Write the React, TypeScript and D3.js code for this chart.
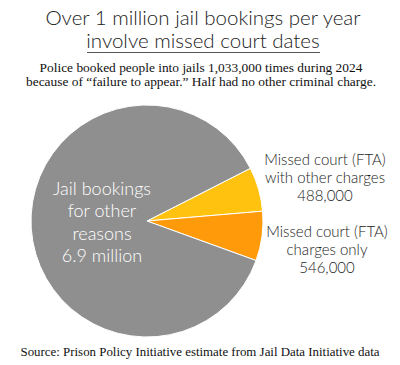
import * as d3 from "d3";

const categories = ["Missed court (FTA) with other charges", "Missed court (FTA) charges only", "Jail bookings for other reasons"];
const values = [488000, 546000, 6900000];
const colors = ["#ffc20e", "#ff9a0a", "#8f8f8f"];

const titleLines = ["Over 1 million jail bookings per year", "involve missed court dates"];
const subtitleLines = [
  "Police booked people into jails 1,033,000 times during 2024",
  "because of \u201cfailure to appear.\u201d Half had no other criminal charge.",
];
const innerLabel = ["Jail bookings", "for other", "reasons", "6.9 million"];
const ftaOtherLabel = ["Missed court (FTA)", "with other charges", "488,000"];
const ftaOnlyLabel = ["Missed court (FTA)", "charges only", "546,000"];
const source = "Source: Prison Policy Initiative estimate from Jail Data Initiative data";

export default function App() {
  const w = 400,
    h = 365;
  const cx = 147,
    cy = 221,
    r = 116;

  const pie = d3
    .pie<number>()
    .sort(null)
    .value((d) => d)
    .startAngle((63 * Math.PI) / 180)
    .endAngle((63 * Math.PI) / 180 + 2 * Math.PI);
  const arcs = pie(values);
  const arc = d3.arc<d3.PieArcDatum<number>>().innerRadius(0).outerRadius(r);

  const sans = "Lato, 'Open Sans', sans-serif";
  const serif = "'Liberation Serif', 'Times New Roman', serif";

  return (
    <svg width={w} height={h} style={{ position: "absolute", left: 0, top: 0, background: "#fff" }}>
      {/* title */}
      <g fontFamily={sans} fontSize={20.5} fontWeight={300} fill="#222" textAnchor="middle">
        {titleLines.map((t, i) => (
          <text key={i} x={203} y={25 + i * 22.5}>
            {t}
          </text>
        ))}
      </g>
      <line x1={87} x2={320} y1={52.5} y2={52.5} stroke="#555" strokeWidth={1} />

      {/* subtitle */}
      <g fontFamily={serif} fontSize={13.4} fill="#111" textAnchor="middle">
        {subtitleLines.map((t, i) => (
          <text key={i} x={201} y={72 + i * 14}>
            {t}
          </text>
        ))}
      </g>

      {/* pie */}
      <g transform={`translate(${cx},${cy})`}>
        {arcs.map((a, i) => (
          <path key={categories[i]} d={arc(a) ?? ""} fill={colors[i]} stroke="#fff" strokeWidth={1} />
        ))}
      </g>

      {/* labels */}
      <g fontFamily={sans} fontSize={18} fontWeight={300} fill="#fff" textAnchor="middle">
        {innerLabel.map((t, i) => (
          <text key={i} x={102} y={195 + i * 22.3}>
            {t}
          </text>
        ))}
      </g>
      <g fontFamily={sans} fontSize={15} fontWeight={300} fill="#222" textAnchor="middle">
        {ftaOtherLabel.map((t, i) => (
          <text key={i} x={325} y={165 + i * 18}>
            {t}
          </text>
        ))}
        {ftaOnlyLabel.map((t, i) => (
          <text key={i} x={327} y={237 + i * 18}>
            {t}
          </text>
        ))}
      </g>

      {/* source */}
      <text x={200} y={356} fontFamily={serif} fontSize={12.9} fill="#111" textAnchor="middle">
        {source}
      </text>
    </svg>
  );
}
